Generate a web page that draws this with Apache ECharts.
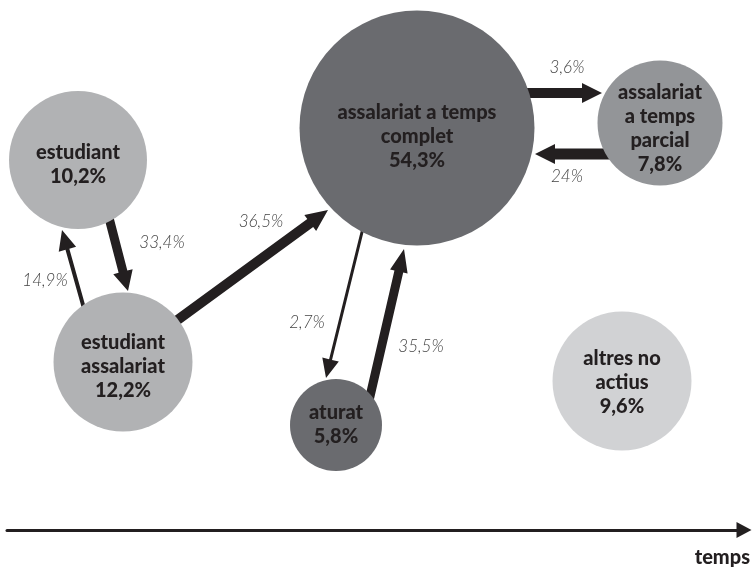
<!DOCTYPE html>
<html>
<head>
<meta charset="utf-8">
<script src="https://cdn.jsdelivr.net/npm/echarts@6/dist/echarts.min.js"></script>
<style>
  html, body { margin: 0; padding: 0; background: #fff; }
  #main { width: 753px; height: 570px; }
</style>
</head>
<body>
<div id="main"></div>
<script>
  // situacions (cercles)
  var nodeNames = ['estudiant', 'estudiant\nassalariat', 'assalariat a temps\ncomplet', 'assalariat\na temps\nparcial', 'aturat', 'altres no\nactius'];
  var nodeShares = [10.2, 12.2, 54.3, 7.8, 5.8, 9.6];
  var nodeX = [78, 123, 417, 660, 336, 622];
  var nodeY = [160, 362, 128, 123, 425, 381];

  // fluxos (fletxes) entre situacions
  var flowLabels = ['33,4%', '14,9%', '36,5%', '2,7%', '35,5%', '3,6%', '24%'];
  var flowStart = [[108, 214], [85, 312], [172, 324], [363, 228], [368, 405], [525, 93], [612, 154]];
  var flowEnd = [[128, 291], [62, 230], [328, 210], [326, 378], [404, 249], [602, 93], [535, 154]];
  var flowLabelAt = [[162, 243], [45, 281], [261, 222], [307, 323], [421, 347], [567, 68], [567, 177]];

  var nodeColors = ['#b1b2b4', '#b1b2b4', '#6a6b6f', '#939598', '#6a6b6f', '#d1d2d4'];
  var nodeDiam = [138, 139, 235, 125, 92, 139];
  var nodeLabelShift = [[0, 5], [0, 5], [0, 9], [0, 6], [0, 0], [0, 2]];
  // gruix del cos, amplada i llargada de la punta
  var flowShape = [[9, 20, 20], [4, 18, 20], [10, 20, 22], [3, 17, 19], [9, 18, 23], [10, 20, 20], [11, 20, 20]];

  var chart = echarts.init(document.getElementById('main'));

  function fmt(v) {
    return String(v).replace('.', ',') + '%';
  }

  var nodeData = nodeNames.map(function (n, i) {
    return {
      name: n,
      value: [nodeX[i], nodeY[i], nodeShares[i]],
      symbolSize: nodeDiam[i],
      itemStyle: { color: nodeColors[i], opacity: 1 },
      label: { offset: nodeLabelShift[i] }
    };
  });

  var flowData = flowLabels.map(function (l, i) {
    return [flowStart[i][0], flowStart[i][1], flowEnd[i][0], flowEnd[i][1], flowLabelAt[i][0], flowLabelAt[i][1]];
  });

  function renderArrow(params, api) {
    var p1 = api.coord([api.value(0), api.value(1)]);
    var p2 = api.coord([api.value(2), api.value(3)]);
    var lp = api.coord([api.value(4), api.value(5)]);
    var s = flowShape[params.dataIndex];
    var w = s[0] / 2, hw = s[1] / 2, hl = s[2];
    var dx = p2[0] - p1[0], dy = p2[1] - p1[1];
    var len = Math.sqrt(dx * dx + dy * dy);
    var ux = dx / len, uy = dy / len;
    var nx = -uy, ny = ux;
    var bx = p2[0] - ux * hl, by = p2[1] - uy * hl;
    var pts = [
      [p1[0] + nx * w, p1[1] + ny * w],
      [bx + nx * w, by + ny * w],
      [bx + nx * hw, by + ny * hw],
      [p2[0], p2[1]],
      [bx - nx * hw, by - ny * hw],
      [bx - nx * w, by - ny * w],
      [p1[0] - nx * w, p1[1] - ny * w]
    ];
    return {
      type: 'group',
      children: [
        { type: 'polygon', shape: { points: pts }, style: { fill: '#231f20' } },
        {
          type: 'text',
          x: lp[0], y: lp[1],
          style: {
            text: flowLabels[params.dataIndex],
            fill: '#444444',
            font: 'italic 300 17px Lato, "Open Sans", sans-serif',
            align: 'center',
            verticalAlign: 'middle'
          }
        }
      ]
    };
  }

  chart.setOption({
    animation: false,
    backgroundColor: '#ffffff',
    grid: { left: 7, right: 16, top: 0, bottom: 40 },
    xAxis: {
      type: 'value',
      position: 'bottom',
      min: 7,
      max: 737,
      splitLine: { show: false },
      axisTick: { show: false },
      axisLabel: { show: false },
      axisLine: {
        show: true,
        onZero: false,
        symbol: ['none', 'triangle'],
        symbolSize: [16, 15],
        symbolOffset: [0, 7],
        lineStyle: { color: '#231f20', width: 3 }
      },
      name: 'temps',
      nameLocation: 'end',
      nameGap: 13,
      nameTextStyle: {
        color: '#231f20',
        fontWeight: 900,
        fontSize: 20,
        fontFamily: 'Lato',
        align: 'right',
        verticalAlign: 'top',
        padding: [18, 0, 0, 0]
      }
    },
    yAxis: {
      type: 'value',
      min: 0,
      max: 530,
      inverse: true,
      show: false
    },
    series: [
      {
        type: 'custom',
        name: 'fluxos',
        z: 1,
        renderItem: renderArrow,
        encode: { x: [0, 2, 4], y: [1, 3, 5] },
        data: flowData
      },
      {
        type: 'scatter',
        name: 'situacions',
        z: 2,
        symbol: 'circle',
        data: nodeData,
        label: {
          show: true,
          position: 'inside',
          color: '#231f20',
          fontWeight: 900,
          fontSize: 20,
          lineHeight: 24,
          fontFamily: 'Lato',
          align: 'center',
          formatter: function (p) {
            return p.name + '\n' + fmt(p.value[2]);
          }
        }
      }
    ]
  });
</script>
</body>
</html>
